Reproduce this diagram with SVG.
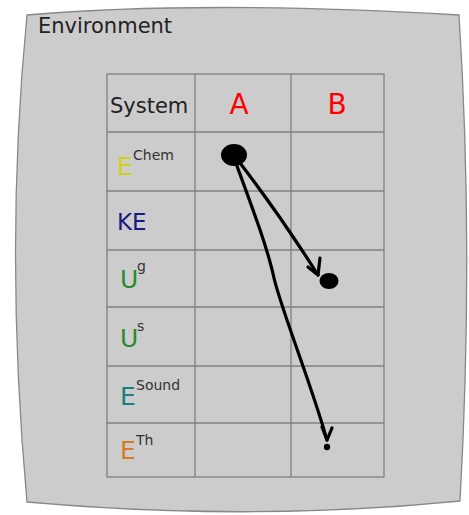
<svg xmlns="http://www.w3.org/2000/svg" width="469" height="515" viewBox="0 0 469 515">
<style>
.grid{stroke:#808080;stroke-width:1.3;fill:none}
.lbl{font-family:"DejaVu Sans",Verdana,sans-serif}
.sup{font-family:"DejaVu Sans",Verdana,sans-serif;font-size:14px;fill:#333}
.ink{stroke:#000;stroke-width:3.2;fill:none;stroke-linecap:round;stroke-linejoin:round}
</style>
<rect width="469" height="515" fill="#fff"/>
<g id="environment">
<path d="M27,15 Q200,0 459,15 Q474,250 460,501 Q250,522 27,502 Q4,250 27,15 Z" fill="#cccccc" stroke="#888" stroke-width="1.3"/>
<text x="38" y="33" class="lbl" font-size="21" fill="#222">Environment</text>
</g>
<g id="table">
<rect x="107" y="74" width="277" height="403" fill="#fff" class="grid"/>
<path class="grid" d="M195,74V477M291,74V477M107,132H384M107,191H384M107,250H384M107,307H384M107,366H384M107,423H384"/>
</g>
<g id="headers">
<text x="110" y="113" class="lbl" font-size="21" fill="#222">System</text>
<text x="239" y="114" class="lbl" font-size="28" fill="#f00" text-anchor="middle">A</text>
<text x="337" y="114" class="lbl" font-size="28" fill="#f00" text-anchor="middle">B</text>
</g>
<g id="rows">
<text x="117" y="175" class="lbl" font-size="25" fill="#d2d214">E</text><text x="133" y="160" class="sup">Chem</text>
<text x="117" y="230" class="lbl" font-size="23" fill="#1a1a80">KE</text>
<text x="120" y="288" class="lbl" font-size="25" fill="#2a8a2a">U</text><text x="137" y="271" class="sup">g</text>
<text x="120" y="347" class="lbl" font-size="25" fill="#2a8a2a">U</text><text x="137" y="331" class="sup">s</text>
<text x="120" y="405" class="lbl" font-size="25" fill="#1a8080">E</text><text x="136" y="390" class="sup">Sound</text>
<text x="120" y="459" class="lbl" font-size="25" fill="#d87a20">E</text><text x="136" y="445" class="sup">Th</text>
</g>
<g id="dots">
<ellipse cx="234" cy="155" rx="13" ry="11" fill="#000"/>
<ellipse cx="329" cy="281" rx="9.5" ry="8" fill="#000"/>
<circle cx="327" cy="447" r="3.2" fill="#000"/>
</g>
<g id="connectors">
<path class="ink" d="M240,163 Q280,215 318,275"/>
<path class="ink" d="M320,258 L318,275 L308,267"/>
<path class="ink" d="M237,166 C255,215 268,250 274,278 C282,312 310,380 327,440"/>
<path class="ink" d="M322,427 L327,440 L332,428"/>
</g>
</svg>
